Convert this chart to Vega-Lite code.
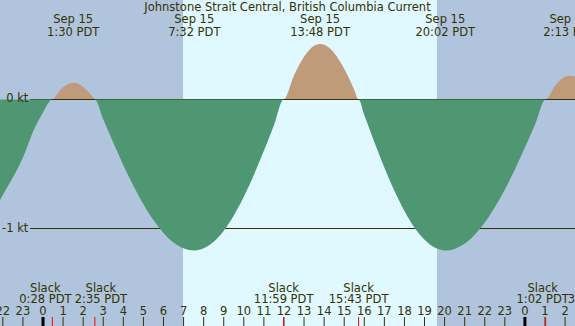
{
  "$schema": "https://vega.github.io/schema/vega-lite/v6.json",
  "width": 575,
  "height": 326,
  "padding": 0,
  "autosize": {"type": "none"},
  "background": "#b0c4de",
  "view": {"stroke": null},
  "config": {"font": "DejaVu Sans"},
  "title": {
    "text": "Johnstone Strait Central, British Columbia Current",
    "anchor": "middle",
    "frame": "group",
    "offset": 0,
    "baseline": "alphabetic",
    "dy": 22,
    "fontSize": 11.5,
    "fontWeight": "normal",
    "font": "DejaVu Sans",
    "color": "#333300"
  },
  "datasets": {
    "light": [
      {"start": -2.142, "end": 6.97, "period": "night"},
      {"start": 6.97, "end": 19.62, "period": "day"},
      {"start": 19.62, "end": 26.494, "period": "night"}
    ],
    "curve": [
      {"h": -2.142, "kt": -0.78}, {"h": -1.75, "kt": -0.67}, {"h": -1.31, "kt": -0.55},
      {"h": -1.0, "kt": -0.45}, {"h": -0.5, "kt": -0.25}, {"h": 0.0, "kt": -0.1},
      {"h": 0.467, "kt": 0}, {"h": 0.75, "kt": 0.054}, {"h": 1.0, "kt": 0.094},
      {"h": 1.25, "kt": 0.121}, {"h": 1.5, "kt": 0.13}, {"h": 1.75, "kt": 0.122},
      {"h": 2.0, "kt": 0.097}, {"h": 2.25, "kt": 0.06}, {"h": 2.5, "kt": 0.016},
      {"h": 2.583, "kt": 0}, {"h": 3.0, "kt": -0.154}, {"h": 3.5, "kt": -0.336},
      {"h": 4.0, "kt": -0.509}, {"h": 4.5, "kt": -0.669}, {"h": 5.0, "kt": -0.812},
      {"h": 5.5, "kt": -0.935}, {"h": 6.0, "kt": -1.034}, {"h": 6.5, "kt": -1.108},
      {"h": 7.0, "kt": -1.153}, {"h": 7.533, "kt": -1.17}, {"h": 8.0, "kt": -1.154},
      {"h": 8.5, "kt": -1.103}, {"h": 9.0, "kt": -1.017}, {"h": 9.5, "kt": -0.899},
      {"h": 10.0, "kt": -0.754}, {"h": 10.5, "kt": -0.585}, {"h": 11.0, "kt": -0.398},
      {"h": 11.5, "kt": -0.199}, {"h": 11.983, "kt": 0}, {"h": 12.5, "kt": 0.186},
      {"h": 13.0, "kt": 0.331}, {"h": 13.5, "kt": 0.416}, {"h": 13.8, "kt": 0.43},
      {"h": 14.0, "kt": 0.424}, {"h": 14.5, "kt": 0.361}, {"h": 15.0, "kt": 0.238},
      {"h": 15.5, "kt": 0.076}, {"h": 15.717, "kt": 0}, {"h": 16.0, "kt": -0.12},
      {"h": 16.5, "kt": -0.329}, {"h": 17.0, "kt": -0.527}, {"h": 17.5, "kt": -0.707},
      {"h": 18.0, "kt": -0.864}, {"h": 18.5, "kt": -0.993}, {"h": 19.0, "kt": -1.088},
      {"h": 19.5, "kt": -1.148}, {"h": 20.033, "kt": -1.17}, {"h": 20.5, "kt": -1.158},
      {"h": 21.0, "kt": -1.117}, {"h": 21.5, "kt": -1.048}, {"h": 22.0, "kt": -0.954},
      {"h": 22.5, "kt": -0.836}, {"h": 23.0, "kt": -0.698}, {"h": 23.5, "kt": -0.542},
      {"h": 24.0, "kt": -0.373}, {"h": 24.5, "kt": -0.195}, {"h": 25.033, "kt": 0},
      {"h": 25.5, "kt": 0.107}, {"h": 26.0, "kt": 0.177}, {"h": 26.217, "kt": 0.185},
      {"h": 26.494, "kt": 0.18}
    ],
    "levels": [
      {"kt": 0, "label": "0 kt"},
      {"kt": -1, "label": "-1 kt"}
    ],
    "events": [
      {"h": 1.5, "lines": ["Sep 15", "1:30 PDT"]},
      {"h": 7.533, "lines": ["Sep 15", "7:32 PDT"]},
      {"h": 13.8, "lines": ["Sep 15", "13:48 PDT"]},
      {"h": 20.033, "lines": ["Sep 15", "20:02 PDT"]},
      {"h": 26.217, "lines": ["Sep 16", "2:13 PDT"]}
    ],
    "slack": [
      {"h": 0.467, "lines": ["Slack", "0:28 PDT"]},
      {"h": 2.583, "lines": ["Slack", "2:35 PDT"]},
      {"h": 11.983, "lines": ["Slack", "11:59 PDT"]},
      {"h": 15.717, "lines": ["Slack", "15:43 PDT"]},
      {"h": 25.033, "lines": ["Slack", "1:02 PDT"]},
      {"h": 27.44, "lines": ["Slack", "3:26 PDT"]}
    ],
    "hours": [
      {"h": -2, "label": "22"}, {"h": -1, "label": "23"}, {"h": 0, "label": "0"},
      {"h": 1, "label": "1"}, {"h": 2, "label": "2"}, {"h": 3, "label": "3"},
      {"h": 4, "label": "4"}, {"h": 5, "label": "5"}, {"h": 6, "label": "6"},
      {"h": 7, "label": "7"}, {"h": 8, "label": "8"}, {"h": 9, "label": "9"},
      {"h": 10, "label": "10"}, {"h": 11, "label": "11"}, {"h": 12, "label": "12"},
      {"h": 13, "label": "13"}, {"h": 14, "label": "14"}, {"h": 15, "label": "15"},
      {"h": 16, "label": "16"}, {"h": 17, "label": "17"}, {"h": 18, "label": "18"},
      {"h": 19, "label": "19"}, {"h": 20, "label": "20"}, {"h": 21, "label": "21"},
      {"h": 22, "label": "22"}, {"h": 23, "label": "23"}, {"h": 24, "label": "0"},
      {"h": 25, "label": "1"}, {"h": 26, "label": "2"}
    ]
  },
  "layer": [
    {
      "data": {"name": "light"},
      "mark": {"type": "rect"},
      "encoding": {
        "x": {"field": "start", "type": "quantitative", "scale": {"domain": [-2.142, 26.494], "nice": false, "zero": false}, "axis": null},
        "x2": {"field": "end"},
        "color": {"field": "period", "type": "nominal", "scale": {"domain": ["night", "day"], "range": ["#b0c4de", "#e0f8ff"]}, "legend": null}
      }
    },
    {
      "data": {"name": "curve"},
      "mark": {"type": "area", "interpolate": "monotone", "color": "#bf9b7a"},
      "encoding": {
        "x": {"field": "h", "type": "quantitative", "scale": {"domain": [-2.142, 26.494], "nice": false, "zero": false}, "axis": null},
        "y": {"field": "kt", "type": "quantitative", "scale": {"domain": [0, 0.7713], "range": [99.5, 0], "clamp": true, "nice": false, "zero": false}, "axis": null},
        "y2": {"datum": 0}
      }
    },
    {
      "data": {"name": "levels"},
      "mark": {"type": "rule", "color": "#333300", "strokeWidth": 1},
      "encoding": {
        "x": {"datum": -0.647, "scale": {"domain": [-2.142, 26.494], "nice": false, "zero": false}, "axis": null},
        "x2": {"datum": 26.494},
        "y": {"field": "kt", "type": "quantitative", "scale": {"domain": [-1.7558, 0.7713], "nice": false, "zero": false}, "axis": null}
      }
    },
    {
      "data": {"name": "curve"},
      "mark": {"type": "area", "interpolate": "monotone", "color": "#4f9772"},
      "encoding": {
        "x": {"field": "h", "type": "quantitative", "scale": {"domain": [-2.142, 26.494], "nice": false, "zero": false}, "axis": null},
        "y": {"field": "kt", "type": "quantitative", "scale": {"domain": [-1.7558, 0], "range": [326, 99.5], "clamp": true, "nice": false, "zero": false}, "axis": null},
        "y2": {"datum": 0}
      }
    },
    {
      "data": {"name": "levels"},
      "mark": {"type": "text", "align": "right", "baseline": "middle", "fontSize": 11.5, "color": "#333300"},
      "encoding": {
        "x": {"datum": -0.73, "scale": {"domain": [-2.142, 26.494], "nice": false, "zero": false}, "axis": null},
        "y": {"field": "kt", "type": "quantitative", "scale": {"domain": [-1.7558, 0.7713], "nice": false, "zero": false}, "axis": null},
        "text": {"field": "label"}
      }
    },
    {
      "data": {"name": "events"},
      "mark": {"type": "text", "align": "center", "baseline": "alphabetic", "lineHeight": 13, "fontSize": 11.5, "color": "#333300"},
      "encoding": {
        "x": {"field": "h", "type": "quantitative", "scale": {"domain": [-2.142, 26.494], "nice": false, "zero": false}, "axis": null},
        "y": {"datum": 0.5891, "scale": {"domain": [-1.7597, 0.7674], "nice": false, "zero": false}, "axis": null},
        "text": {"field": "lines"}
      }
    },
    {
      "data": {"name": "slack"},
      "transform": [{"filter": "datum.h < 1"}],
      "mark": {"type": "text", "align": "center", "baseline": "alphabetic", "lineHeight": 11.6, "fontSize": 11.5, "color": "#333300", "dx": -7},
      "encoding": {
        "x": {"field": "h", "type": "quantitative", "scale": {"domain": [-2.142, 26.494], "nice": false, "zero": false}, "axis": null},
        "y": {"datum": -1.4938, "scale": {"domain": [-1.7597, 0.7674], "nice": false, "zero": false}, "axis": null},
        "text": {"field": "lines"}
      }
    },
    {
      "data": {"name": "slack"},
      "transform": [{"filter": "datum.h > 2 && datum.h < 3"}],
      "mark": {"type": "text", "align": "center", "baseline": "alphabetic", "lineHeight": 11.6, "fontSize": 11.5, "color": "#333300", "dx": 6},
      "encoding": {
        "x": {"field": "h", "type": "quantitative", "scale": {"domain": [-2.142, 26.494], "nice": false, "zero": false}, "axis": null},
        "y": {"datum": -1.4938, "scale": {"domain": [-1.7597, 0.7674], "nice": false, "zero": false}, "axis": null},
        "text": {"field": "lines"}
      }
    },
    {
      "data": {"name": "slack"},
      "transform": [{"filter": "datum.h > 25 && datum.h < 26"}],
      "mark": {"type": "text", "align": "center", "baseline": "alphabetic", "lineHeight": 11.6, "fontSize": 11.5, "color": "#333300", "dx": -3},
      "encoding": {
        "x": {"field": "h", "type": "quantitative", "scale": {"domain": [-2.142, 26.494], "nice": false, "zero": false}, "axis": null},
        "y": {"datum": -1.4938, "scale": {"domain": [-1.7597, 0.7674], "nice": false, "zero": false}, "axis": null},
        "text": {"field": "lines"}
      }
    },
    {
      "data": {"name": "slack"},
      "transform": [{"filter": "(datum.h > 10 && datum.h < 20) || datum.h > 27"}],
      "mark": {"type": "text", "align": "center", "baseline": "alphabetic", "lineHeight": 11.6, "fontSize": 11.5, "color": "#333300"},
      "encoding": {
        "x": {"field": "h", "type": "quantitative", "scale": {"domain": [-2.142, 26.494], "nice": false, "zero": false}, "axis": null},
        "y": {"datum": -1.4938, "scale": {"domain": [-1.7597, 0.7674], "nice": false, "zero": false}, "axis": null},
        "text": {"field": "lines"}
      }
    },
    {
      "data": {"name": "hours"},
      "mark": {"type": "rule"},
      "encoding": {
        "x": {"field": "h", "type": "quantitative", "scale": {"domain": [-2.142, 26.494], "nice": false, "zero": false}, "axis": null},
        "y": {"datum": -1.6899, "scale": {"domain": [-1.7597, 0.7674], "nice": false, "zero": false}, "axis": null},
        "y2": {"datum": -1.7597},
        "strokeWidth": {"condition": {"test": "datum.h % 24 === 0", "value": 3}, "value": 1},
        "color": {"condition": {"test": "datum.h % 24 === 0", "value": "#000000"}, "value": "#333300"}
      }
    },
    {
      "data": {"name": "slack"},
      "mark": {"type": "rule", "color": "#ff0000", "strokeWidth": 1},
      "encoding": {
        "x": {"field": "h", "type": "quantitative", "scale": {"domain": [-2.142, 26.494], "nice": false, "zero": false}, "axis": null},
        "y": {"datum": -1.6899, "scale": {"domain": [-1.7597, 0.7674], "nice": false, "zero": false}, "axis": null},
        "y2": {"datum": -1.7597}
      }
    },
    {
      "data": {"name": "hours"},
      "mark": {"type": "text", "align": "center", "baseline": "alphabetic", "fontSize": 11.5, "color": "#333300"},
      "encoding": {
        "x": {"field": "h", "type": "quantitative", "scale": {"domain": [-2.142, 26.494], "nice": false, "zero": false}, "axis": null},
        "y": {"datum": -1.6745, "scale": {"domain": [-1.7597, 0.7674], "nice": false, "zero": false}, "axis": null},
        "text": {"field": "label"}
      }
    }
  ],
  "resolve": {"scale": {"y": "independent"}}
}
